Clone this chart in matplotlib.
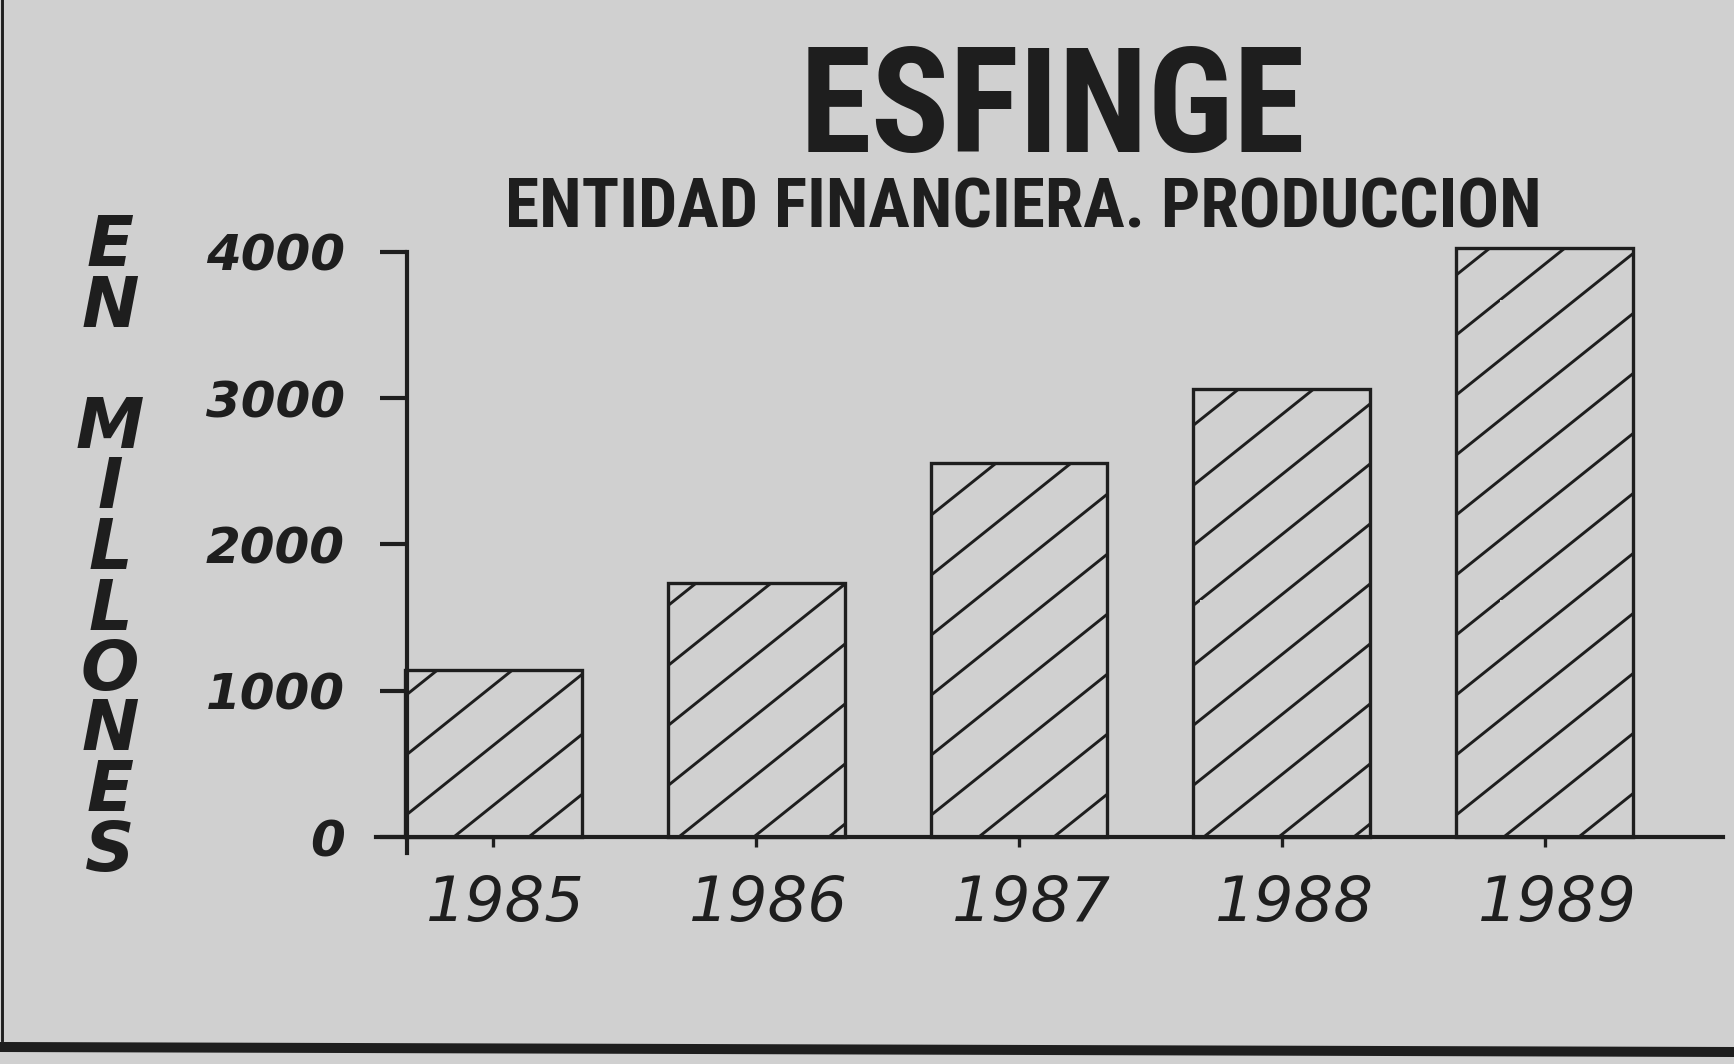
import numpy as np
import matplotlib
matplotlib.use('Agg')
import matplotlib.pyplot as plt
import matplotlib.hatch as mhatch
import matplotlib.transforms as mtrans
from matplotlib import font_manager as fm
from matplotlib.path import Path
from matplotlib.lines import Line2D

# ---------------- data ----------------
years = ['1985', '1986', '1987', '1988', '1989']
production = [1140, 1740, 2560, 3060, 4030]
y_ticks = [0, 1000, 2000, 3000, 4000]
y_tick_labels = ['0', '1000', '2000', '3000', '4000']
title = 'ESFINGE'
subtitle = 'ENTIDAD FINANCIERA. PRODUCCION'
y_label = 'EN MILLONES'

# ---------------- style ----------------
PAPER = '#d0d0d0'
INK = '#1e1e1e'
DPI = 300
W, H = 1734, 1064
SANS = ['DejaVu Sans']


def condensed_font():
    avail = {f.name for f in fm.fontManager.ttflist}
    for fam in ('Liberation Sans Narrow', 'Roboto Condensed', 'Open Sans Condensed',
                'Noto Sans Condensed', 'Arial Narrow', 'DejaVu Sans Condensed'):
        if fam in avail:
            return fam, 'normal'
    if 'Roboto' in avail:
        return 'Roboto', 'normal'
    try:
        p = fm.findfont(fm.FontProperties(family='DejaVu Sans', weight='bold',
                                          stretch='condensed'),
                        fallback_to_default=False)
        if 'Condensed' in p:
            return 'DejaVu Sans', 'condensed'
    except Exception:
        pass
    return 'DejaVu Sans', 'normal'


NARROW_FAM, NARROW_STRETCH = condensed_font()


# shallow diagonal hatch (slope 4/5) replacing the 45 degree '/' hatch
class SlantHatch(mhatch.HatchPatternBase):
    def __init__(self, hatch, density):
        self.num_lines = 9 if '/' in hatch else 0
        self.num_vertices = self.num_lines * 2

    def set_vertices_and_codes(self, vertices, codes):
        c = np.arange(-4, 5) / 5.0
        vertices[0::2, 0] = 0.0
        vertices[0::2, 1] = c
        vertices[1::2, 0] = 1.0
        vertices[1::2, 1] = c + 0.8
        codes[0::2] = Path.MOVETO
        codes[1::2] = Path.LINETO


mhatch._hatch_types = [SlantHatch if t is mhatch.NorthEastHatch else t
                       for t in mhatch._hatch_types]

plt.rcParams['hatch.linewidth'] = 0.7
plt.rcParams['hatch.color'] = INK

fig = plt.figure(figsize=(W / DPI, H / DPI), dpi=DPI, facecolor=PAPER)
ax = fig.add_axes([376 / W, (H - 854.6) / H, (1723 - 376) / W, 610 / H])
ax.set_facecolor('none')

x = np.arange(len(years))
ax.bar(x, production, width=0.673, facecolor='none', edgecolor=INK,
       linewidth=0.8, hatch='/')

ax.set_xlim(-0.445, 4.677)
ax.set_ylim(-120, 4050)

for s in ('top', 'right'):
    ax.spines[s].set_visible(False)
ax.spines['bottom'].set_position(('data', 0))
ax.spines['bottom'].set_linewidth(1.0)
ax.spines['bottom'].set_color(INK)
ax.spines['left'].set_position(('data', -0.327))
ax.spines['left'].set_bounds(-110, 4000)
ax.spines['left'].set_linewidth(1.0)
ax.spines['left'].set_color(INK)

ax.set_yticks(y_ticks, labels=y_tick_labels)
ax.set_xticks(x, labels=years)
ax.tick_params(axis='y', direction='out', length=6.5, width=1.0, pad=8.4,
               color=INK, labelcolor=INK)
ax.tick_params(axis='x', direction='out', length=2.4, width=0.8, pad=6.5,
               color=INK, labelcolor=INK)
for lab in ax.get_yticklabels():
    lab.set_fontfamily(SANS)
    lab.set_fontsize(12)
    lab.set_fontstyle('italic')
    lab.set_fontweight('bold')
shift = mtrans.ScaledTranslation(12 / DPI, 0, fig.dpi_scale_trans)
for lab in ax.get_xticklabels():
    lab.set_fontfamily(SANS)
    lab.set_fontsize(15)
    lab.set_fontstyle('italic')
    lab.set_transform(lab.get_transform() + shift)

renderer = fig.canvas.get_renderer()


def fitted_text(xc, ybase, s, target_w, target_cap, slack):
    t = fig.text(xc / W, 1 - ybase / H, s, ha='center', va='baseline',
                 fontsize=10, fontweight='bold', family=NARROW_FAM,
                 fontstretch=NARROW_STRETCH, color=INK)
    w10 = t.get_window_extent(renderer).width
    fs_w = 10 * target_w / w10
    fs_h = target_cap / (0.72 * DPI / 72)
    t.set_fontsize(min(fs_h, fs_w * slack))
    return t


# titles
fitted_text(1052, 152, title, 494, 105, 1.12)
fitted_text(1023, 227, subtitle, 1073, 50, 1.04)

# vertical stacked axis label
for i, ch in enumerate(y_label):
    if ch == ' ':
        continue
    fig.text(110 / W, 1 - (240 + 60.5 * i) / H, ch, ha='center',
             va='center_baseline', fontsize=16.5, fontstyle='italic',
             fontweight='bold', family=SANS, color=INK)

# page decorations
fig.add_artist(Line2D([0, 1], [1 - 1047 / H, 1 - 1052 / H],
                      transform=fig.transFigure, color=INK, lw=2.4))
fig.add_artist(Line2D([2 / W, 2 / W], [1, 1 - 1040 / H],
                      transform=fig.transFigure, color=INK, lw=0.7))

fig.savefig('out.png', dpi=DPI, facecolor=PAPER)
